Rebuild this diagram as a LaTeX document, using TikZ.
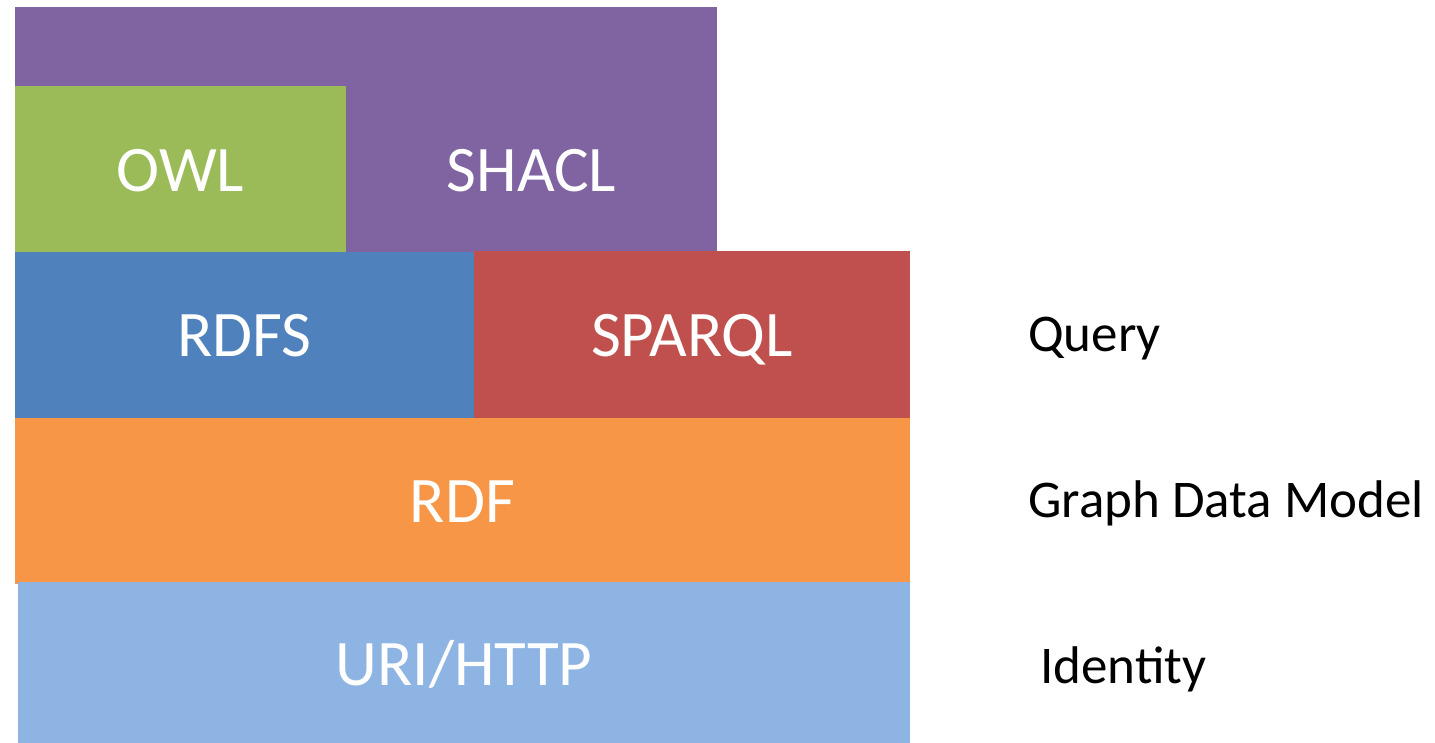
\documentclass[tikz,border=0pt]{standalone}
\usepackage{fontspec}
\setmainfont{Carlito}
\definecolor{owlgreen}{HTML}{9BBB59}
\definecolor{shaclpurple}{HTML}{8064A2}
\definecolor{rdfsblue}{HTML}{4F81BD}
\definecolor{sparqlred}{HTML}{C0504D}
\definecolor{rdforange}{HTML}{F79646}
\definecolor{urilight}{HTML}{8EB4E3}
\begin{document}
\begin{tikzpicture}[x=1pt,y=-1pt,
  tech/.style={text=white, font=\fontsize{65}{65}\selectfont, inner sep=0pt, anchor=base},
  side/.style={text=black, font=\fontsize{53}{53}\selectfont, inner sep=0pt, anchor=base west}]
  \useasboundingbox (0,0) rectangle (1435,743);
  % stacked blocks
  \fill[shaclpurple] (15,7) rectangle (717,252);
  \fill[owlgreen] (15,86) rectangle (346,252);
  \fill[rdfsblue] (15,252) rectangle (474,418);
  \fill[sparqlred] (474,251) rectangle (910,418);
  \fill[rdforange] (15,418) rectangle (910,584);
  \fill[urilight] (18,582) rectangle (910,743);
  % block labels
  \node[tech] (owl) at (180.5,192) {OWL};
  \node[tech] (shacl) at (531.5,192) {SHACL};
  \node[tech] (rdfs) at (244.5,356) {RDFS};
  \node[tech] (sparql) at (692,356) {SPARQL};
  \node[tech] (rdf) at (462.5,522) {RDF};
  \node[tech] (uri) at (464,685) {URI/HTTP};
  % layer descriptions
  \node[side] (query) at (1028,351) {Query};
  \node[side] (model) at (1028,517) {Graph Data Model};
  \node[side] (identity) at (1040,683) {Identity};
\end{tikzpicture}
\end{document}
